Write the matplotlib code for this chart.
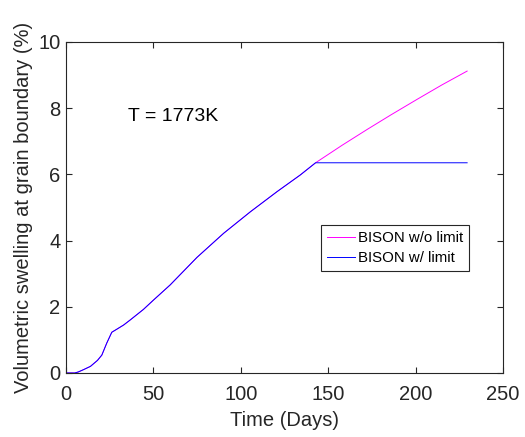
import matplotlib.pyplot as plt

plt.rcParams['font.family'] = ['Liberation Sans', 'DejaVu Sans']

# swelling with the grain boundary limit (saturates at ~6.35 %)
t_lim = [0, 5, 7, 10, 14, 18, 20.5, 23.3, 26.2, 29, 33, 36.7, 44.3, 50, 59.6, 74.9,
         90.2, 105.5, 120.8, 134, 142.8, 229.5]
s_lim = [0, 0, 0.03, 0.1, 0.2, 0.38, 0.54, 0.9, 1.23, 1.32, 1.45, 1.6, 1.92, 2.2, 2.66, 3.49,
         4.22, 4.87, 5.48, 5.98, 6.35, 6.35]

# swelling without limit (same curve, keeps growing after ~143 days)
t_nolim = t_lim[:-1] + [158, 172.4, 186, 201, 215, 229.5]
s_nolim = s_lim[:-1] + [6.88, 7.36, 7.8, 8.27, 8.7, 9.12]

fig = plt.figure(figsize=(5.25, 4.37), dpi=100)
ax = fig.add_axes([0.1257, 0.1465, 0.8323, 0.7575])

ax.plot(t_nolim, s_nolim, color='#ff00ff', lw=0.7, label='BISON w/o limit')
ax.plot(t_lim, s_lim, color='#0000ff', lw=0.7, label='BISON w/ limit')

ax.set_xlim(0, 250)
ax.set_ylim(0, 10)
ax.set_xticks([0, 50, 100, 150, 200, 250])
ax.set_yticks([0, 2, 4, 6, 8, 10])

gray = '#262626'
for sp in ax.spines.values():
    sp.set_color(gray)
    sp.set_linewidth(0.8)
ax.tick_params(direction='in', length=4, width=0.8, top=True, right=True,
               colors=gray, labelsize=14.5, labelcolor=gray, pad=4)
ax.tick_params(axis='x', pad=9)

ax.set_xlabel('Time (Days)', fontsize=14.5, color=gray, labelpad=5)
ax.set_ylabel('Volumetric swelling at grain boundary (%)', fontsize=14.5, color=gray,
              labelpad=4)

ax.text(35.5, 7.76, 'T = 1773K', fontsize=14, va='center', ha='left', color='black')

leg = ax.legend(loc='upper left', bbox_to_anchor=(0.583, 0.447), fontsize=10.8,
                frameon=True, fancybox=False, edgecolor=gray, framealpha=1,
                handlelength=1.9, handletextpad=0.2, borderpad=0.4,
                labelspacing=0.4, borderaxespad=0)
leg.get_frame().set_linewidth(0.8)

fig.savefig('out.png', dpi=100)
